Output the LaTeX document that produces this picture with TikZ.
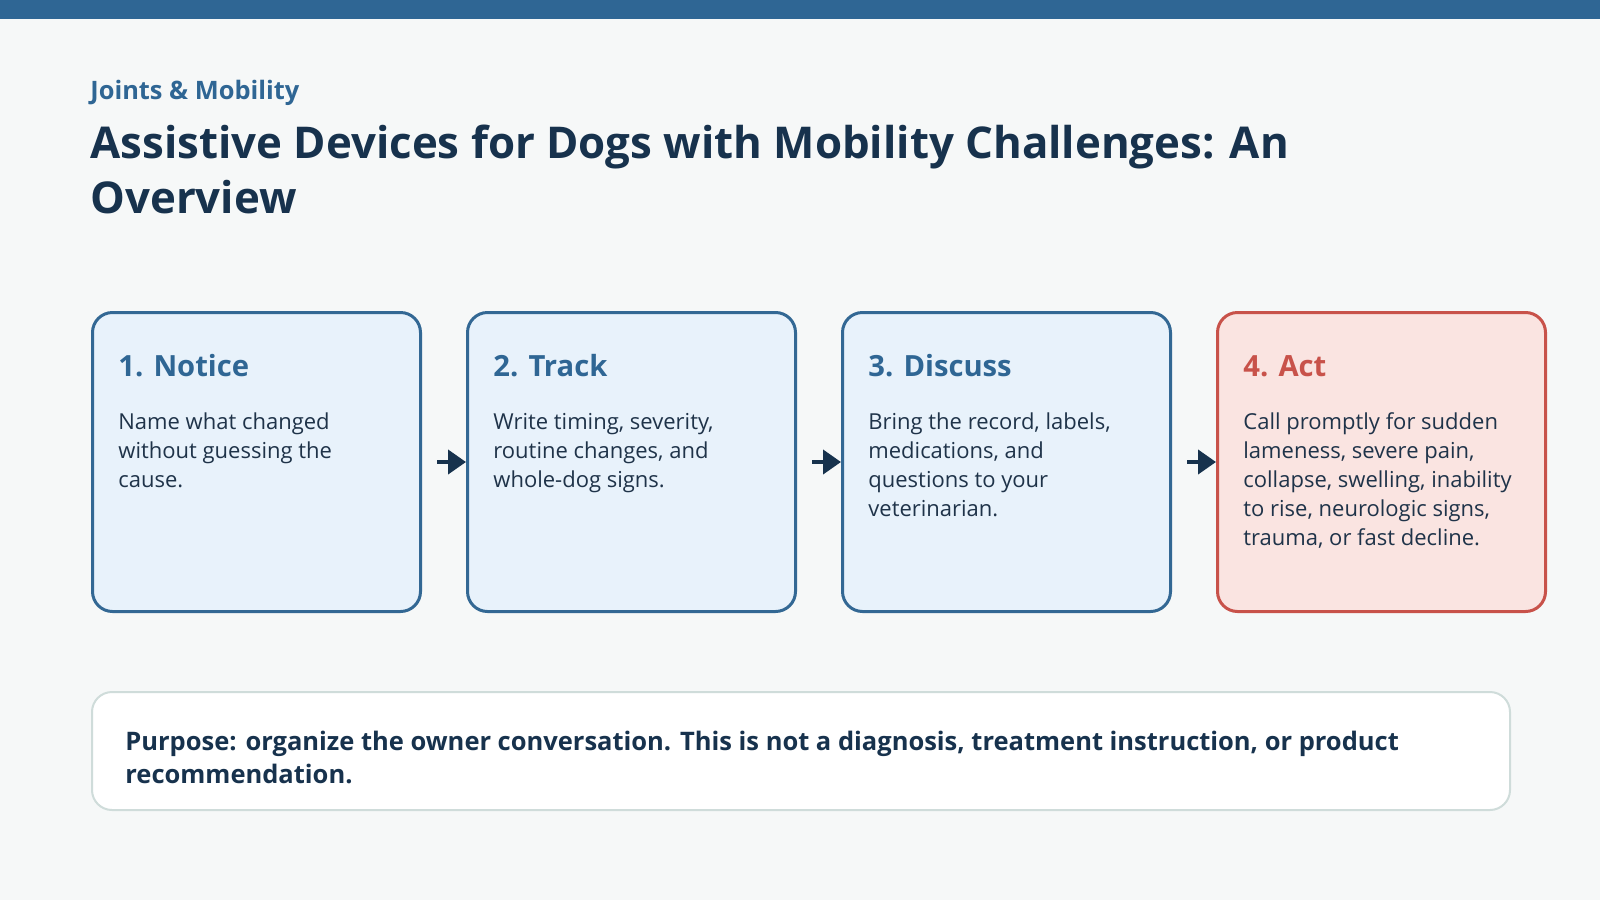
\documentclass[tikz,border=0pt]{standalone}
\usepackage{fontspec}
\setmainfont{Open Sans}
\usetikzlibrary{arrows.meta,positioning}

\definecolor{barblue}{HTML}{2F6694}
\definecolor{paper}{HTML}{F6F8F8}
\definecolor{ink}{HTML}{17324D}
\definecolor{bodyink}{HTML}{1F3349}
\definecolor{stepfill}{HTML}{E8F2FB}
\definecolor{stepline}{HTML}{336894}
\definecolor{alertfill}{HTML}{FAE4E1}
\definecolor{alertline}{HTML}{C8524A}
\definecolor{noteline}{HTML}{CFDCDA}

\begin{document}
\begin{tikzpicture}[
  x=0.5pt, y=-0.5pt,
  line join=round,
  card/.style={draw=stepline, fill=stepfill, line width=1.5pt, rounded corners=10pt,
    minimum width=164pt, minimum height=149.5pt, anchor=north west, inner sep=0pt},
  alert/.style={card, draw=alertline, fill=alertfill},
  cardhead/.style={font=\fontsize{14.6}{18}\selectfont\bfseries, text=barblue, anchor=base west, inner sep=0pt},
  alerthead/.style={cardhead, text=alertline},
  body/.style={font=\fontsize{11}{14.5}\selectfont, text=bodyink, anchor=base west, inner sep=0pt},
  flow/.style={draw=ink, line width=2pt, -{Triangle[length=9pt, width=12pt]}},
]
\useasboundingbox (0,0) rectangle (1600,900);
\fill[paper] (0,0) rectangle (1600,900);
\fill[barblue] (0,0) rectangle (1600,18.5);

% ── the headings ──────────────────────────────────────────────────────────
\node[font=\fontsize{12.7}{15}\selectfont\bfseries, text=barblue, anchor=base west, inner sep=0pt]
  (topic) at (90,99) {Joints \& Mobility};
\node[font=\fontsize{21.9}{27.5}\selectfont\bfseries, text=ink, anchor=base west, inner sep=0pt]
  (title) at (90,158) {\parbox[t]{700pt}{Assistive Devices for Dogs with Mobility Challenges: An\\Overview}};

% ── the four steps ────────────────────────────────────────────────────────
\foreach \n/\x/\s/\h/\t in {%
  notice/91/card/{1. Notice}/{Name what changed\\without guessing the\\cause.},
  track/466/card/{2. Track}/{Write timing, severity,\\routine changes, and\\whole-dog signs.},
  discuss/841/card/{3. Discuss}/{Bring the record, labels,\\medications, and\\questions to your\\veterinarian.},
  act/1216/alert/{4. Act}/{Call promptly for sudden\\lameness, severe pain,\\collapse, swelling, inability\\to rise, neurologic signs,\\trauma, or fast decline.}%
} {
  \node[\s] (\n) at (\x,311) {};
  \node[\s head] (\n-head) at ([shift={(27,65)}]\n.north west) {\h};
  \node[body] (\n-body) at ([shift={(27,118)}]\n.north west) {\parbox[t]{150pt}{\t}};
}

% ── the arrows between them ───────────────────────────────────────────────
\draw[flow] ([xshift=7.5pt]notice.east) -- (track.west);
\draw[flow] ([xshift=7.5pt]track.east) -- (discuss.west);
\draw[flow] ([xshift=7.5pt]discuss.east) -- (act.west);

% ── the note below ────────────────────────────────────────────────────────
\node[draw=noteline, fill=white, line width=1pt, rounded corners=10pt, anchor=north west,
  minimum width=709pt, minimum height=59pt, inner sep=0pt] (note) at (91,691) {};
\node[font=\fontsize{12.75}{16.5}\selectfont\bfseries, text=ink, anchor=base west, inner sep=0pt]
  (purpose) at ([shift={(34,59)}]note.north west)
  {\parbox[t]{700pt}{Purpose: organize the owner conversation. This is not a diagnosis, treatment instruction, or product\\recommendation.}};

\end{tikzpicture}
\end{document}
